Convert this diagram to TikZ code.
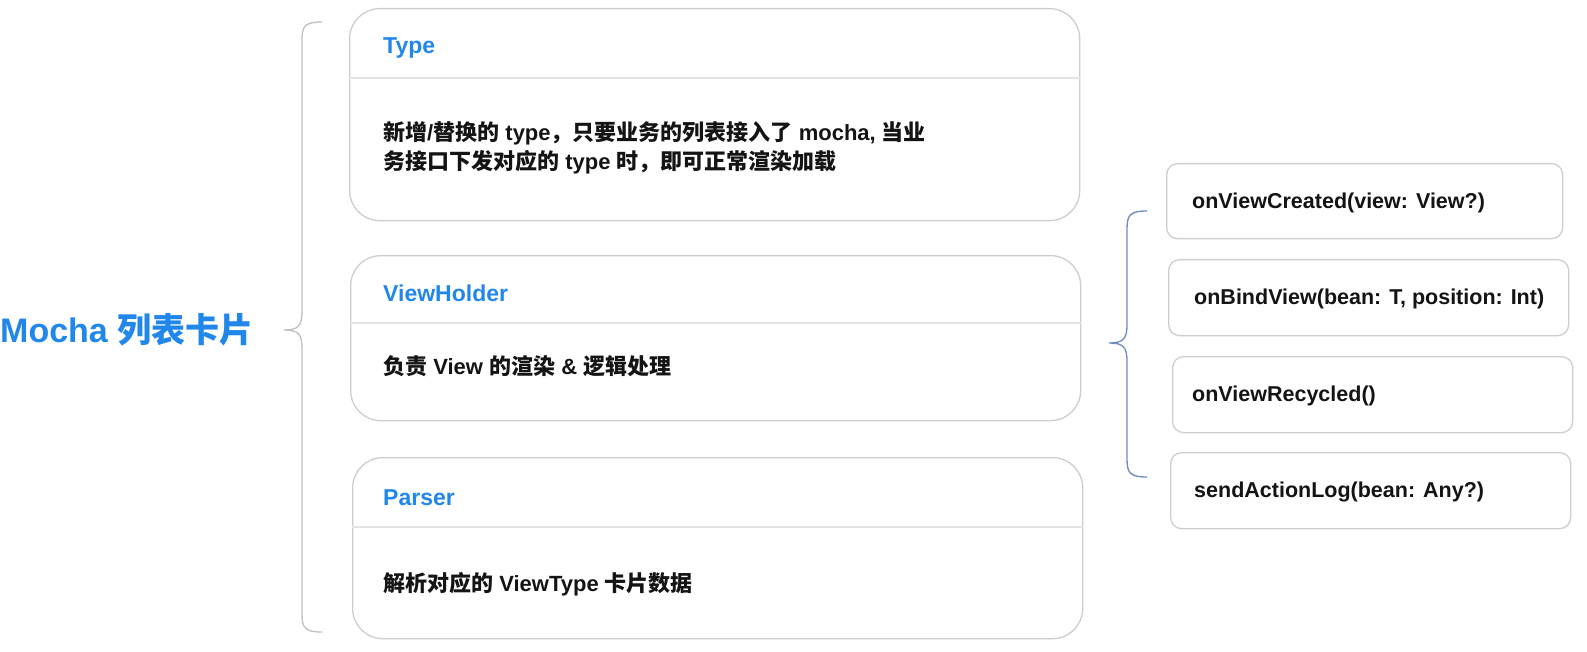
\documentclass[tikz,border=0pt]{standalone}
\usepackage{fontspec}
\setmainfont{Liberation Sans}
\newfontfamily\cjk{Noto Sans CJK SC}
\usetikzlibrary{calc}
\definecolor{titleblue}{RGB}{33,135,235}
\definecolor{boxgray}{RGB}{206,206,206}
\definecolor{linegray}{RGB}{228,228,228}
\definecolor{bracegray}{RGB}{192,192,192}
\definecolor{braceblue}{RGB}{108,142,191}
\definecolor{bodyblack}{RGB}{20,20,20}
\begin{document}
\begin{tikzpicture}[x=1pt,y=-1pt,
  card/.style={draw=boxgray, line width=1.3pt, rounded corners=30pt, anchor=north west, inner sep=0pt, minimum width=730pt},
  method/.style={draw=boxgray, line width=1.3pt, rounded corners=11pt, anchor=north west, inner sep=0pt, minimum width=396pt, minimum height=75pt},
  divider/.style={draw=linegray, line width=1.2pt},
  cardtitle/.style={anchor=west, inner sep=0pt, text=titleblue, font=\bfseries\fontsize{23}{27}\selectfont},
  bodytext/.style={anchor=west, inner sep=0pt, text=bodyblack, align=left, font=\bfseries\fontsize{22}{29}\selectfont},
  methodtext/.style={anchor=west, inner sep=0pt, text=bodyblack, font=\bfseries\fontsize{21.5}{26}\selectfont},
  bracel/.style={draw=bracegray, line width=1.3pt},
  bracer/.style={draw=braceblue, line width=1.3pt}
]
\fill[white] (0,0) rectangle (1587,652);
\useasboundingbox (0,0) rectangle (1587,652);

% main label
\node[anchor=west, inner sep=0pt, text=titleblue, font=\bfseries\fontsize{34}{39}\selectfont] (mocha) at (0,330) {Mocha {\cjk 列表卡片}};

% left cards
\node[card, minimum height=212pt] (type) at (349,8) {};
\node[card, minimum height=165pt] (vh) at (350,255) {};
\node[card, minimum height=181pt] (parser) at (352,457) {};

\draw[divider] ($(type.north west)+(0,70)$) -- ($(type.north east)+(0,70)$);
\draw[divider] ($(vh.north west)+(0,68)$) -- ($(vh.north east)+(0,68)$);
\draw[divider] ($(parser.north west)+(0,70)$) -- ($(parser.north east)+(0,70)$);

\node[cardtitle] (typeT) at ($(type.north west)+(34,40)$) {Type};
\node[cardtitle] (vhT) at ($(vh.north west)+(33,38)$) {ViewHolder};
\node[cardtitle] (parserT) at ($(parser.north west)+(31,41)$) {Parser};

\node[bodytext] (typeB) at ($(type.north west)+(34,139.5)$) {{\cjk 新增}/{\cjk 替换的} type{\cjk ，只要业务的列表接入了} mocha, {\cjk 当业}\\{\cjk 务接口下发对应的} type {\cjk 时，即可正常渲染加载}};
\node[bodytext] (vhB) at ($(vh.north west)+(33,111)$) {{\cjk 负责} View {\cjk 的渲染} \& {\cjk 逻辑处理}};
\node[bodytext] (parserB) at ($(parser.north west)+(31,127)$) {{\cjk 解析对应的} ViewType {\cjk 卡片数据}};

% right method boxes
\node[method] (m1) at (1166,163) {};
\node[method, minimum width=400pt, minimum height=76pt] (m2) at (1168,259) {};
\node[method, minimum width=400pt, minimum height=76pt] (m3) at (1172,356) {};
\node[method, minimum width=400pt, minimum height=76pt] (m4) at (1170,452) {};

\node[methodtext] (m1t) at ($(m1.west)+(26,2)$) {onViewCreated(view: View?)};
\node[methodtext] (m2t) at ($(m2.west)+(26,1)$) {onBindView(bean: T, position: Int)};
\node[methodtext] (m3t) at ($(m3.west)+(20,1)$) {onViewRecycled()};
\node[methodtext] (m4t) at ($(m4.west)+(24,1)$) {sendActionLog(bean: Any?)};

% left brace
\coordinate (lbtop) at (322,22);
\coordinate (lbtip) at (284,330);
\coordinate (lbbot) at (322,632);
\draw[bracel] (lbtop) .. controls (305,22) and (302,26) .. (302,40) -- (302,312)
  .. controls (302,326) and (298,330) .. (lbtip)
  .. controls (298,330) and (302,334) .. (302,348) -- (302,614)
  .. controls (302,628) and (305,632) .. (lbbot);

% right brace
\coordinate (rbtop) at (1147,211);
\coordinate (rbtip) at (1109,343);
\coordinate (rbbot) at (1147,477);
\draw[bracer] (rbtop) .. controls (1130,211) and (1127,215) .. (1127,229) -- (1127,325)
  .. controls (1127,339) and (1123,343) .. (rbtip)
  .. controls (1123,343) and (1127,347) .. (1127,361) -- (1127,459)
  .. controls (1127,473) and (1130,477) .. (rbbot);
\end{tikzpicture}
\end{document}
